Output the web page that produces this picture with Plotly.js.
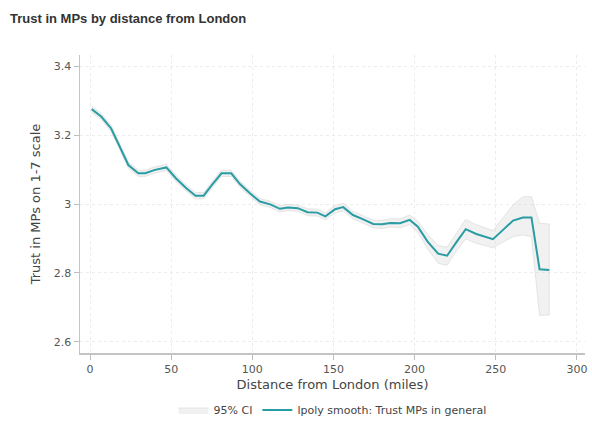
<!DOCTYPE html>
<html>
<head>
<meta charset="utf-8">
<script src="https://cdn.plot.ly/plotly-3.0.1.min.js"></script>
<style>html,body{margin:0;padding:0;background:#fff;}#chart{width:592px;height:423px;}</style>
</head>
<body>
<div id="chart"></div>
<script>
// Distance from London (miles)
const distance = [1, 7, 13, 18.5, 23.6, 29.7, 34, 40, 47, 53, 59.5, 65, 70, 75, 81, 87, 92.5, 98.5, 104.7, 111, 117, 122, 128, 134, 140, 145, 151, 156, 162, 168, 174.5, 180, 185, 191, 197, 202, 208, 214.5, 220, 226, 231.5, 238, 248.3, 254.5, 260.7, 266.8, 272, 277, 283];
// lpoly smooth: Trust MPs in general
const trust = [3.275, 3.253, 3.219, 3.166, 3.113, 3.089, 3.089, 3.099, 3.106, 3.074, 3.045, 3.024, 3.024, 3.055, 3.089, 3.089, 3.057, 3.031, 3.007, 2.999, 2.986, 2.990, 2.988, 2.976, 2.975, 2.964, 2.985, 2.991, 2.968, 2.956, 2.942, 2.941, 2.945, 2.944, 2.954, 2.934, 2.891, 2.856, 2.850, 2.891, 2.927, 2.913, 2.898, 2.925, 2.952, 2.961, 2.961, 2.811, 2.809];
// 95% CI bounds
const ciUpper = [3.285, 3.262, 3.228, 3.175, 3.122, 3.098, 3.098, 3.108, 3.115, 3.083, 3.054, 3.033, 3.033, 3.064, 3.098, 3.098, 3.066, 3.040, 3.016, 3.008, 2.995, 2.999, 2.997, 2.986, 2.985, 2.974, 2.996, 3.002, 2.979, 2.967, 2.953, 2.953, 2.957, 2.957, 2.968, 2.950, 2.912, 2.880, 2.875, 2.917, 2.955, 2.940, 2.923, 2.960, 2.998, 3.021, 3.021, 2.944, 2.942];
const ciLower = [3.265, 3.244, 3.210, 3.157, 3.104, 3.080, 3.080, 3.090, 3.097, 3.065, 3.036, 3.015, 3.015, 3.046, 3.080, 3.080, 3.048, 3.022, 2.998, 2.990, 2.977, 2.981, 2.979, 2.966, 2.965, 2.954, 2.974, 2.980, 2.957, 2.945, 2.931, 2.929, 2.933, 2.931, 2.940, 2.918, 2.870, 2.828, 2.822, 2.865, 2.899, 2.886, 2.873, 2.890, 2.906, 2.910, 2.905, 2.677, 2.678];

const xTicks = [0, 50, 100, 150, 200, 250, 300];
const yTicks = [2.6, 2.8, 3, 3.2, 3.4];
const yTickText = ['2.6', '2.8', '3', '3.2', '3.4'];

const bandX = distance.concat(distance.slice().reverse());
const bandY = ciUpper.concat(ciLower.slice().reverse());

const traces = [
  {
    x: bandX, y: bandY, type: 'scatter', mode: 'lines', fill: 'toself',
    fillcolor: 'rgba(215,215,215,0.35)', line: {color: 'rgba(215,215,215,0.6)', width: 1},
    name: '95% CI', hoverinfo: 'skip'
  },
  {
    x: distance, y: trust, type: 'scatter', mode: 'lines',
    line: {color: '#2a9ca3', width: 2},
    name: 'lpoly smooth: Trust MPs in general'
  }
];

const font = 'DejaVu Sans, Verdana, sans-serif';
const layout = {
  width: 592, height: 423,
  margin: {l: 80, r: 7, t: 55, b: 70},
  paper_bgcolor: '#fff', plot_bgcolor: '#fff',
  font: {family: font, color: '#555', size: 11},
  title: {
    text: '<b>Trust in MPs by distance from London</b>',
    font: {family: 'Liberation Sans, Arial, sans-serif', size: 13, color: '#333'},
    xref: 'container', yref: 'container', x: 10/592, xanchor: 'left', y: 1 - 18/423, yanchor: 'middle'
  },
  xaxis: {
    range: [-6.2, 305], tickvals: xTicks, ticks: 'outside', ticklen: 5, tickcolor: '#bdbdbd', automargin: false,
    showline: true, linecolor: '#c4c4c4', linewidth: 1.5, zeroline: false, showgrid: true, gridcolor: '#ececec', griddash: 'dot', gridwidth: 1,
    tickfont: {size: 11, color: '#555'},
    title: {text: 'Distance from London (miles)', font: {size: 13, color: '#444'}, standoff: 5}
  },
  yaxis: {
    range: [2.568, 3.432], tickvals: yTicks, ticktext: yTickText, ticks: 'outside', ticklen: 5, tickcolor: '#bdbdbd', automargin: false,
    showline: true, linecolor: '#c4c4c4', linewidth: 1.5, zeroline: false, showgrid: true, gridcolor: '#ececec', griddash: 'dot', gridwidth: 1,
    tickfont: {size: 11, color: '#555'},
    title: {text: 'Trust in MPs on 1-7 scale', font: {size: 13, color: '#444'}, standoff: 10}
  },
  showlegend: true,
  legend: {
    orientation: 'h', xref: 'paper', x: 0.5, xanchor: 'center',
    yref: 'container', y: 1 - 410/423, yanchor: 'middle',
    font: {size: 11, color: '#444'}, bgcolor: 'rgba(0,0,0,0)'
  }
};

Plotly.newPlot('chart', traces, layout, {displayModeBar: false, staticPlot: true});
</script>
</body>
</html>
